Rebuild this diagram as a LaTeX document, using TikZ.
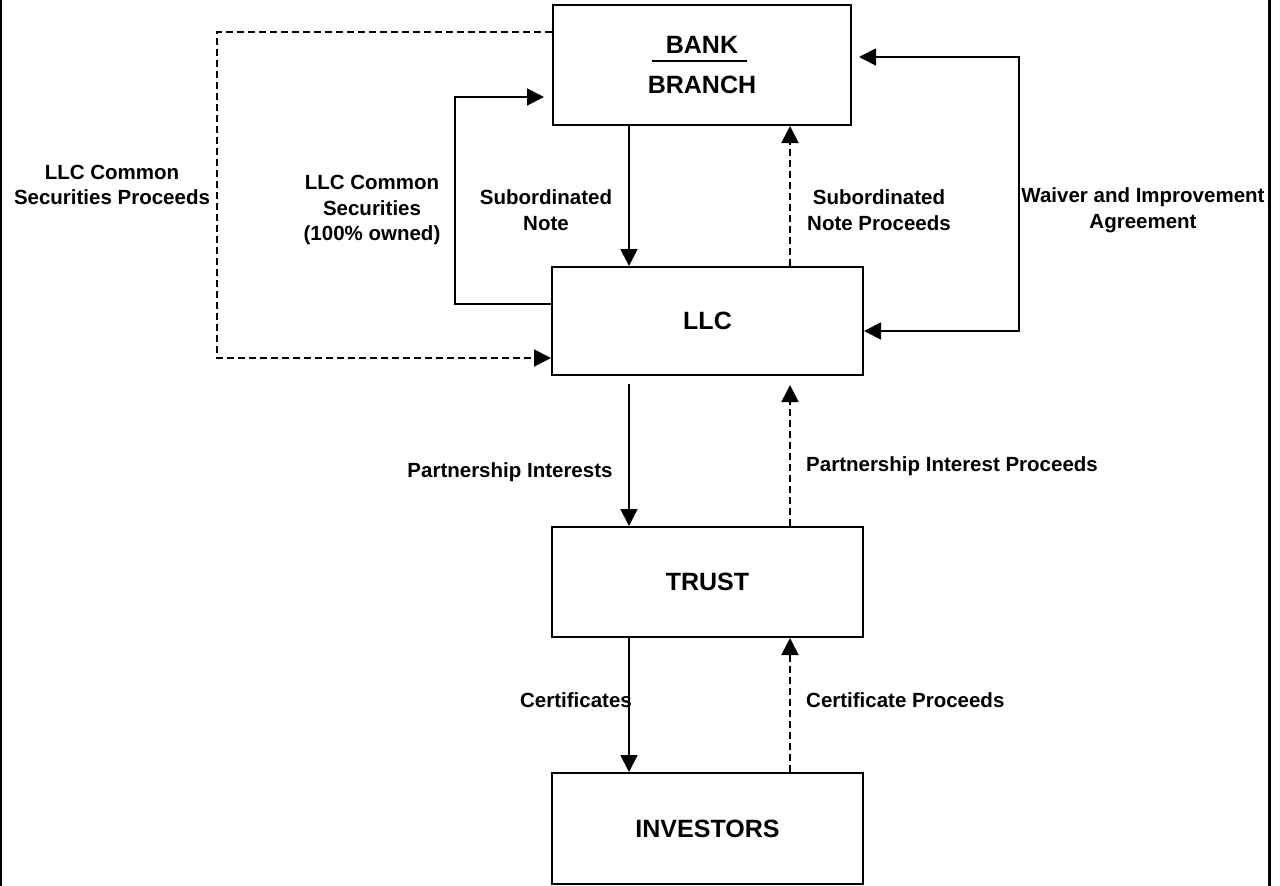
\documentclass[tikz,border=0pt]{standalone}
\usepackage{fontspec}
\setmainfont{Liberation Sans}
\usetikzlibrary{arrows.meta}
\begin{document}
\begin{tikzpicture}[x=1pt,y=-1pt,
 box/.style={draw,line width=2pt,inner sep=0pt,align=center,font=\fontsize{25}{40}\selectfont\bfseries},
 lbl/.style={inner sep=0pt,align=center,font=\fontsize{20.5}{25.5}\selectfont\bfseries},
 conn/.style={line width=1.8pt},
 tip/.style={-{Triangle[length=17pt,width=17pt]}},
 twotip/.style={{Triangle[length=17pt,width=17pt]}-{Triangle[length=17pt,width=17pt]}},
 dsh/.style={dash pattern=on 7pt off 4pt},
]
\useasboundingbox (0,0) rectangle (1280,886);
% page frame side lines
\draw[line width=2pt] (1,0) -- (1,886);
\draw[line width=2.5pt] (1269.5,0) -- (1269.5,886);

% boxes
\node[box,minimum width=298pt,minimum height=120pt] (bank) at (702,65) {BANK\\BRANCH};
\draw[line width=2pt] ([xshift=-50pt,yshift=4pt]bank.center) -- ([xshift=45pt,yshift=4pt]bank.center);
\node[box,minimum width=311pt,minimum height=108pt] (llc) at (707.5,321) {LLC};
\node[box,minimum width=311pt,minimum height=110pt] (trust) at (707.5,582) {TRUST};
\node[box,minimum width=311pt,minimum height=111pt] (inv) at (707.5,828.5) {INVESTORS};

% helper coordinates
\coordinate (xA) at (629,0);
\coordinate (xB) at (790,0);
\coordinate (s1) at (455,304);
\coordinate (s2) at (455,97);
\coordinate (p1) at (217,32);
\coordinate (p2) at (217,358);
\coordinate (w1) at (1019,57);
\coordinate (w2) at (1019,331);

% connectors
\draw[conn,tip] (bank.south -| xA) -- (llc.north -| xA);
\draw[conn,tip,dsh] (llc.north -| xB) -- (bank.south -| xB);
\draw[conn,tip,shorten >=8pt] (llc.west |- s1) -- (s1) -- (s2) -- (bank.west |- s2);
\draw[conn,tip,dsh] (bank.west |- p1) -- (p1) -- (p2) -- (llc.west |- p2);
\draw[conn,twotip,shorten <=7pt] (bank.east |- w1) -- (w1) -- (w2) -- (llc.east |- w2);
\draw[conn,tip,shorten <=8pt] (llc.south -| xA) -- (trust.north -| xA);
\draw[conn,tip,dsh,shorten >=9pt] (trust.north -| xB) -- (llc.south -| xB);
\draw[conn,tip] (trust.south -| xA) -- (inv.north -| xA);
\draw[conn,tip,dsh] (inv.north -| xB) -- (trust.south -| xB);

% labels
\node[lbl] (lSecP) at (112,185) {LLC Common\\Securities Proceeds};
\node[lbl] (lSec) at (372,210) {LLC Common\\Securities\\(100\% owned)};
\node[lbl] (lSub) at (546,210) {Subordinated\\Note};
\node[lbl] (lSubP) at (879,210) {Subordinated\\Note Proceeds};
\node[lbl] (lWai) at (1143,210) {Waiver and Improvement\\Agreement};
\node[lbl] (lPI) at (510,472) {Partnership Interests};
\node[lbl,anchor=west] (lPIP) at (806,466) {Partnership Interest Proceeds};
\node[lbl] (lCert) at (576,700) {Certificates};
\node[lbl,anchor=west] (lCertP) at (806,700) {Certificate Proceeds};
\end{tikzpicture}
\end{document}
